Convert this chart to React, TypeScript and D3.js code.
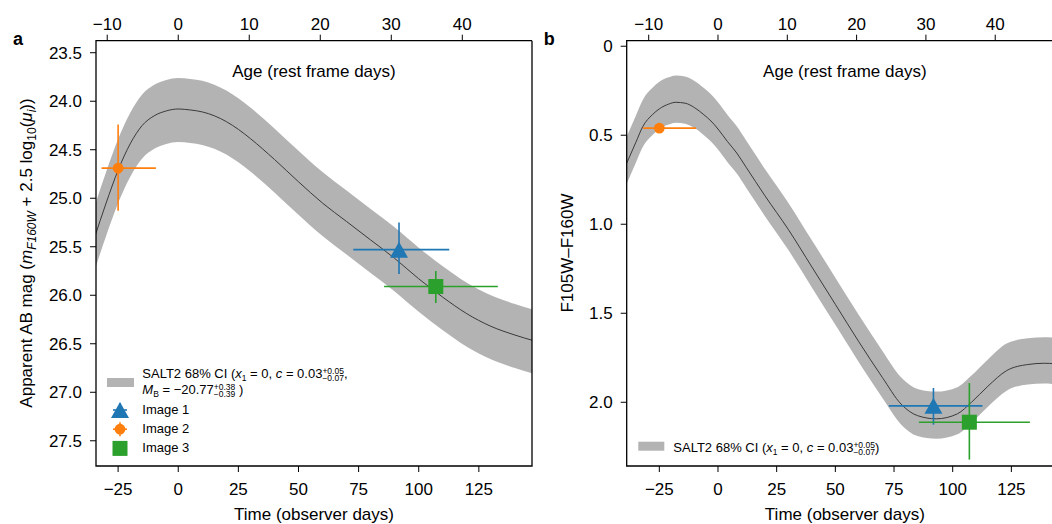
import React from "react";
import * as d3 from "d3";

// stretch between observer days and rest-frame days (1 + z)
const onePlusZ = 2.953;

const timeTicks = [-25, 0, 25, 50, 75, 100, 125];
const ageTicks = [-10, 0, 10, 20, 30, 40];
const magTicks = [23.5, 24.0, 24.5, 25.0, 25.5, 26.0, 26.5, 27.0, 27.5];
const colourTicks = [0, 0.5, 1, 1.5, 2];
const colourTickLabels = ["0", "0.5", "1.0", "1.5", "2.0"];

// SALT2 model, panel a (magnitude)
const magTime = [-35, -30, -25, -20, -15, -10, -5, 0, 5, 10, 15, 20, 25, 30, 40, 50, 60, 70, 80, 90, 100, 110, 120, 130, 140, 148];
const magMid = [25.42, 25.05, 24.71, 24.44, 24.25, 24.15, 24.1, 24.08, 24.09, 24.11, 24.15, 24.21, 24.29, 24.385, 24.6, 24.83, 25.05, 25.24, 25.43, 25.62, 25.83, 26.02, 26.19, 26.32, 26.41, 26.47];
const magLow = [25.1, 24.73, 24.39, 24.12, 23.93, 23.83, 23.78, 23.76, 23.77, 23.79, 23.83, 23.89, 23.97, 24.065, 24.28, 24.51, 24.73, 24.92, 25.11, 25.3, 25.51, 25.7, 25.87, 26.0, 26.09, 26.15];
const magHigh = [25.76, 25.39, 25.05, 24.78, 24.59, 24.49, 24.44, 24.42, 24.43, 24.45, 24.49, 24.55, 24.63, 24.725, 24.94, 25.17, 25.39, 25.58, 25.77, 25.96, 26.17, 26.36, 26.53, 26.66, 26.75, 26.81];

// SALT2 model, panel b (F105W-F160W colour)
const colTime = [-39, -35, -32, -28, -25, -21, -18, -14, -10, -6, -3, 0, 4, 8, 12, 20, 30, 40, 50, 60, 70, 78, 85, 93, 102, 108, 115, 123, 132, 139, 148];
const colMid = [0.66, 0.54, 0.45, 0.385, 0.352, 0.325, 0.315, 0.32, 0.345, 0.385, 0.42, 0.465, 0.535, 0.6, 0.68, 0.84, 1.03, 1.24, 1.45, 1.66, 1.86, 2.01, 2.075, 2.093, 2.065, 2.0, 1.91, 1.822, 1.788, 1.781, 1.79];
const colLow = [0.51, 0.39, 0.3, 0.235, 0.2, 0.175, 0.165, 0.17, 0.195, 0.235, 0.27, 0.315, 0.385, 0.45, 0.53, 0.69, 0.88, 1.09, 1.3, 1.51, 1.71, 1.86, 1.925, 1.94, 1.915, 1.85, 1.76, 1.67, 1.64, 1.635, 1.64];
const colHigh = [0.775, 0.655, 0.565, 0.5, 0.465, 0.44, 0.43, 0.435, 0.46, 0.5, 0.535, 0.58, 0.65, 0.715, 0.795, 0.955, 1.145, 1.355, 1.565, 1.775, 1.975, 2.125, 2.19, 2.205, 2.18, 2.115, 2.025, 1.935, 1.9, 1.895, 1.905];

// lensed images
const imageNames = ["Image 1", "Image 2", "Image 3"];
const imageColours = ["#1f77b4", "#ff7f0e", "#2ca02c"];
const imageMarkers = ["triangle", "circle", "square"];
const imageTime = [91.8, -25, 107.1];
const imageTimeErrMinus = [19, 6.9, 21.5];
const imageTimeErrPlus = [20.9, 15.7, 25.8];
const imageMag = [25.53, 24.69, 25.91];
const imageMagErrMinus = [0.28, 0.45, 0.16];
const imageMagErrPlus = [0.25, 0.44, 0.17];
const imageCol = [2.02, 0.46, 2.112];
const imageColErrMinus = [0.1, 0.01, 0.22];
const imageColErrPlus = [0.106, 0.01, 0.21];

const FONT = "'Liberation Sans', Arial, Helvetica, sans-serif";
const TOP = 40.7;
const BOTTOM = 466;

function Marker({ kind, x, y, colour }) {
  if (kind === "triangle")
    return <polygon points={`${x},${y - 8} ${x - 9},${y + 8} ${x + 9},${y + 8}`} fill={colour} />;
  if (kind === "square")
    return <rect x={x - 7.5} y={y - 7.5} width={15} height={15} fill={colour} />;
  return <circle cx={x} cy={y} r={5.4} fill={colour} />;
}

function Panel({ id, left, right, xDomain, yDomain, yTicks, yTickLabels, time, mid, low, high, values, errMinus, errPlus, label, yLabel, clip }) {
  const x = d3.scaleLinear().domain(xDomain).range([left, right]);
  const y = d3.scaleLinear().domain(yDomain).range([TOP, BOTTOM]);
  const idx = d3.range(time.length);

  const area = d3.area<number>()
    .x(i => x(time[i]))
    .y0(i => y(low[i]))
    .y1(i => y(high[i]))
    .curve(d3.curveMonotoneX);
  const line = d3.line<number>()
    .x(i => x(time[i]))
    .y(i => y(mid[i]))
    .curve(d3.curveMonotoneX);

  return (
    <g fontFamily={FONT}>
      <defs>
        <clipPath id={id}>
          <rect x={left} y={TOP} width={right - left} height={BOTTOM - TOP} />
        </clipPath>
      </defs>

      <g clipPath={`url(#${id})`}>
        <path d={area(idx)} fill="#b3b3b3" />
        <path d={line(idx)} fill="none" stroke="#3a3a3a" strokeWidth={1} />
        {imageNames.map((n, i) => (
          <g key={n} stroke={imageColours[i]} strokeWidth={1.6}>
            <line x1={x(imageTime[i] - imageTimeErrMinus[i])} x2={x(imageTime[i] + imageTimeErrPlus[i])}
              y1={y(values[i])} y2={y(values[i])} />
            <line x1={x(imageTime[i])} x2={x(imageTime[i])}
              y1={y(values[i] - errMinus[i])} y2={y(values[i] + errPlus[i])} />
          </g>
        ))}
        {imageNames.map((n, i) => (
          <Marker key={n} kind={imageMarkers[i]} x={x(imageTime[i])} y={y(values[i])} colour={imageColours[i]} />
        ))}
      </g>

      {/* spines */}
      <path d={`M${right},${TOP}H${left}V${BOTTOM}H${right}${clip ? "" : "V" + TOP}`} fill="none" stroke="#000" strokeWidth={1.3} />

      {/* bottom axis */}
      {timeTicks.map(t => (
        <g key={"b" + t}>
          <line x1={x(t)} x2={x(t)} y1={BOTTOM} y2={BOTTOM + 6} stroke="#000" />
          <text x={x(t)} y={495} textAnchor="middle" fontSize={17}>{t < 0 ? "\u2212" + -t : t}</text>
        </g>
      ))}
      <text x={(left + right) / 2} y={520} textAnchor="middle" fontSize={17}>Time (observer days)</text>

      {/* top axis: rest-frame age */}
      {ageTicks.map(a => (
        <g key={"t" + a}>
          <line x1={x(a * onePlusZ)} x2={x(a * onePlusZ)} y1={TOP} y2={TOP - 6} stroke="#000" />
          <text x={x(a * onePlusZ)} y={30} textAnchor="middle" fontSize={17}>{a < 0 ? "\u2212" + -a : a}</text>
        </g>
      ))}
      <text x={(left + right) / 2} y={77} textAnchor="middle" fontSize={17}>Age (rest frame days)</text>

      {/* left axis */}
      {yTicks.map((v, i) => (
        <g key={"l" + v}>
          <line x1={left - 6} x2={left} y1={y(v)} y2={y(v)} stroke="#000" />
          <text x={left - 14} y={y(v) + 6} textAnchor="end" fontSize={17}>{yTickLabels[i]}</text>
        </g>
      ))}

      <text x={left - 83} y={45} fontSize={18} fontWeight="bold">{label}</text>
      {yLabel}
    </g>
  );
}

const sup = 8.5;

export default function App() {
  const magLabels = magTicks.map(v => v.toFixed(1));
  return (
    <svg width={1052} height={524} style={{ position: "absolute", left: 0, top: 0, background: "#fff" }}>
      <Panel id="clipA" left={96} right={532} xDomain={[-34.2, 147.1]} yDomain={[23.376, 27.76]}
        yTicks={magTicks} yTickLabels={magLabels}
        time={magTime} mid={magMid} low={magLow} high={magHigh}
        values={imageMag} errMinus={imageMagErrMinus} errPlus={imageMagErrPlus}
        label="a" clip={false}
        yLabel={
          <text x={31.5} y={253} transform="rotate(-90 31.5 253)" textAnchor="middle" fontSize={17}>
            Apparent AB mag (<tspan fontStyle="italic">m</tspan>
            <tspan dy={4} fontSize={12} fontStyle="italic">F160W</tspan>
            <tspan dy={-4}> + 2.5 log</tspan>
            <tspan dy={4} fontSize={12}>10</tspan>
            <tspan dy={-4}>(</tspan><tspan fontStyle="italic">μ</tspan>
            <tspan dy={4} fontSize={12} fontStyle="italic">i</tspan>
            <tspan dy={-4}>))</tspan>
          </text>
        } />
      <Panel id="clipB" left={626.7} right={1063} xDomain={[-38.9, 147]} yDomain={[-0.031, 2.358]}
        yTicks={colourTicks} yTickLabels={colourTickLabels}
        time={colTime} mid={colMid} low={colLow} high={colHigh}
        values={imageCol} errMinus={imageColErrMinus} errPlus={imageColErrPlus}
        label="b" clip={true}
        yLabel={
          <text x={573.3} y={253} transform="rotate(-90 573.3 253)" textAnchor="middle" fontSize={17} fontFamily={FONT}>
            F105W–F160W
          </text>
        } />

      {/* legend, panel a */}
      <g fontFamily={FONT} fontSize={13}>
        <rect x={107} y={378} width={27} height={9} fill="#b3b3b3" />
        <text x={142.3} y={377.5}>
          SALT2 68% CI (<tspan fontStyle="italic">x</tspan>
          <tspan dy={3} fontSize={sup}>1</tspan>
          <tspan dy={-3}> = 0, </tspan><tspan fontStyle="italic">c</tspan> = 0.03
          <tspan dy={-3.8} fontSize={sup}>+0.05</tspan>
          <tspan dx="-2.53em" dy={7.3} fontSize={sup}>−0.07</tspan>
          <tspan dy={-3.5}>,</tspan>
        </text>
        <text x={142.3} y={393.8}>
          <tspan fontStyle="italic">M</tspan>
          <tspan dy={3} fontSize={sup}>B</tspan>
          <tspan dy={-3}> = −20.77</tspan>
          <tspan dy={-3.8} fontSize={sup}>+0.38</tspan>
          <tspan dx="-2.53em" dy={7.3} fontSize={sup}>−0.39</tspan>
          <tspan dy={-3.5}> )</tspan>
        </text>
        {imageNames.map((n, i) => {
          const cy = 410 + i * 19.2;
          return (
            <g key={n}>
              <g stroke={imageColours[i]} strokeWidth={1.6}>
                <line x1={113} x2={127} y1={cy} y2={cy} />
                <line x1={120} x2={120} y1={cy - 7} y2={cy + 7} />
              </g>
              <Marker kind={imageMarkers[i]} x={120} y={cy} colour={imageColours[i]} />
              <text x={142.3} y={cy + 4}>{n}</text>
            </g>
          );
        })}
      </g>

      {/* legend, panel b */}
      <g fontFamily={FONT} fontSize={13}>
        <rect x={638.3} y={441.7} width={26} height={9} fill="#b3b3b3" />
        <text x={673.3} y={451.7}>
          SALT2 68% CI (<tspan fontStyle="italic">x</tspan>
          <tspan dy={3} fontSize={sup}>1</tspan>
          <tspan dy={-3}> = 0, </tspan><tspan fontStyle="italic">c</tspan> = 0.03
          <tspan dy={-3.8} fontSize={sup}>+0.05</tspan>
          <tspan dx="-2.53em" dy={7.3} fontSize={sup}>−0.07</tspan>
          <tspan dy={-3.5}>)</tspan>
        </text>
      </g>
    </svg>
  );
}
